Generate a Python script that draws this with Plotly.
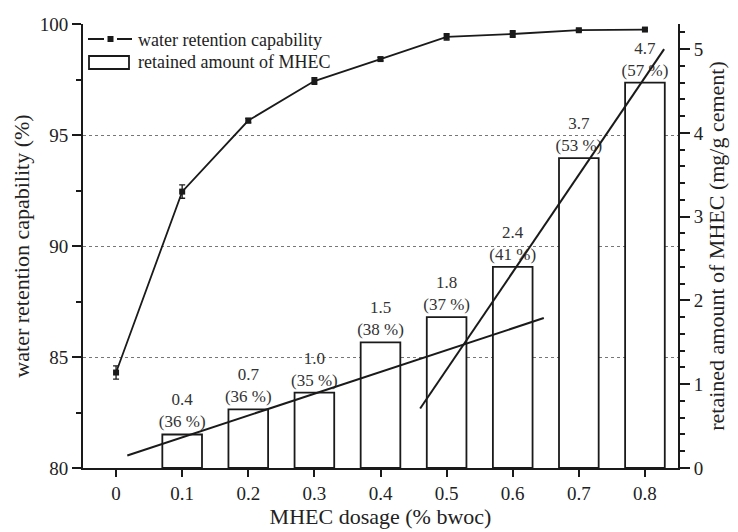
import plotly.graph_objects as go

dosage = [0, 0.1, 0.2, 0.3, 0.4, 0.5, 0.6, 0.7, 0.8]
water_retention = [84.3, 92.45, 95.65, 97.43, 98.42, 99.42, 99.55, 99.72, 99.75]
wr_error = [0.3, 0.3, 0.1, 0.15, 0.08, 0.15, 0.15, 0.05, 0.05]

bar_dosage = [0.1, 0.2, 0.3, 0.4, 0.5, 0.6, 0.7, 0.8]
retained = [0.4, 0.7, 0.9, 1.5, 1.8, 2.4, 3.7, 4.6]
retained_labels = ["0.4", "0.7", "1.0", "1.5", "1.8", "2.4", "3.7", "4.7"]
retained_pct = ["36 %", "36 %", "35 %", "38 %", "37 %", "41 %", "53 %", "57 %"]

trend1_x = [0.017, 0.647]
trend1_y = [0.15, 1.79]
trend2_x = [0.46, 0.829]
trend2_y = [0.71, 5.0]

legend_names = ["water retention capability", "retained amount of MHEC"]

FONT = "Liberation Serif, Times New Roman, serif"
INK = "#1a1a1a"

fig = go.Figure()

fig.add_trace(go.Scatter(
    x=dosage, y=water_retention, mode="lines+markers",
    name=legend_names[0],
    line=dict(color=INK, width=1.8),
    marker=dict(symbol="square", size=6, color=INK),
    error_y=dict(type="data", array=wr_error, color=INK, thickness=1.3, width=3),
    yaxis="y",
))

fig.add_trace(go.Bar(
    x=bar_dosage, y=retained, width=0.06,
    name=legend_names[1],
    marker=dict(color="white", line=dict(color=INK, width=1.8)),
    text=[f"{a}<br>({b})" for a, b in zip(retained_labels, retained_pct)],
    textposition="outside", cliponaxis=False, constraintext="none",
    textfont=dict(family=FONT, size=17, color="#333"),
    yaxis="y2",
))

for tx, ty in [(trend1_x, trend1_y), (trend2_x, trend2_y)]:
    fig.add_trace(go.Scatter(
        x=tx, y=ty, mode="lines", showlegend=False,
        line=dict(color=INK, width=2), yaxis="y2",
    ))

# manual legend (page is offset by the 8px body margin)
W, H = 738, 532
L, T = 75, 16
PW, PH = 595, 444
def px(xp):
    return (xp - 8 - L) / PW
def py(yp):
    return (T + PH - (yp - 8)) / PH

shapes = [
    dict(type="line", xref="paper", yref="paper", x0=px(88), x1=px(104), y0=py(39), y1=py(39),
         line=dict(color=INK, width=2)),
    dict(type="line", xref="paper", yref="paper", x0=px(117), x1=px(132), y0=py(39), y1=py(39),
         line=dict(color=INK, width=2)),
    dict(type="rect", xref="paper", yref="paper", x0=px(107.5), x1=px(113.5), y0=py(42), y1=py(36),
         fillcolor=INK, line=dict(width=0)),
    dict(type="rect", xref="paper", yref="paper", x0=px(89), x1=px(129), y0=py(69), y1=py(56),
         fillcolor="white", line=dict(color=INK, width=1.8)),
]
annotations = [
    dict(xref="paper", yref="paper", x=px(136), y=py(39.5), xanchor="left", yanchor="middle",
         text=legend_names[0], showarrow=False, font=dict(size=18, family=FONT, color="#222")),
    dict(xref="paper", yref="paper", x=px(136), y=py(62.5), xanchor="left", yanchor="middle",
         text=legend_names[1], showarrow=False, font=dict(size=18, family=FONT, color="#222")),
]

fig.update_layout(
    width=W, height=H,
    margin=dict(l=L, r=W - L - PW, t=T, b=H - T - PH, autoexpand=False),
    paper_bgcolor="white", plot_bgcolor="white",
    font=dict(family=FONT, size=18, color="#222"),
    showlegend=False,
    shapes=shapes, annotations=annotations,
    xaxis=dict(
        range=[-0.05, 0.85], tickvals=dosage,
        ticktext=["0", "0.1", "0.2", "0.3", "0.4", "0.5", "0.6", "0.7", "0.8"],
        ticks="outside", ticklen=7, tickwidth=1.5, tickcolor=INK,
        showline=True, linecolor=INK, linewidth=2,
        showgrid=False, zeroline=False,
        title=dict(text="MHEC dosage (% bwoc)", font=dict(size=22), standoff=6),
        tickfont=dict(size=19),
    ),
    yaxis=dict(
        range=[80, 100], tickvals=[80, 85, 90, 95, 100],
        ticks="outside", ticklen=9, tickwidth=1.5, tickcolor=INK,
        minor=dict(ticks="outside", dtick=2.5, ticklen=5, tickcolor=INK, showgrid=False),
        showline=True, linecolor=INK, linewidth=2,
        showgrid=True, gridcolor="#777", griddash="dot", gridwidth=1,
        zeroline=False,
        title=dict(text="water retention capability (%)", font=dict(size=22), standoff=4),
        tickfont=dict(size=19),
    ),
    yaxis2=dict(
        range=[0, 5.3], tickvals=[0, 1, 2, 3, 4, 5], overlaying="y", side="right",
        ticks="outside", ticklen=10, tickwidth=1.5, tickcolor=INK,
        minor=dict(ticks="outside", dtick=0.2, ticklen=5, tickcolor=INK, showgrid=False),
        showline=True, linecolor=INK, linewidth=2,
        showgrid=False, zeroline=False,
        title=dict(text="retained amount of MHEC (mg/g cement)", font=dict(size=22), standoff=5),
        tickfont=dict(size=19),
    ),
)

fig.write_html("out.html")
